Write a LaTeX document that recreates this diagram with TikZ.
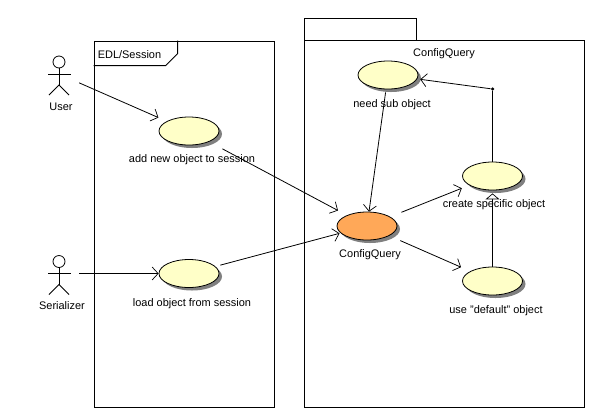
\documentclass[tikz,border=0pt]{standalone}
\usepackage{fontspec}
\setmainfont{Liberation Sans}
\usetikzlibrary{arrows.meta,shapes.geometric,shadows}
\definecolor{caseyellow}{HTML}{FFFFC8}
\definecolor{caseorange}{HTML}{FFA858}
\definecolor{shadowgrey}{HTML}{808080}
\tikzset{
  casenode/.style={ellipse, draw, line width=0.8bp, fill=caseyellow, inner sep=0pt,
    minimum width=60bp, minimum height=28bp,
    drop shadow={shadow xshift=3bp, shadow yshift=-3bp, fill=shadowgrey, opacity=1}},
  maincase/.style={casenode, fill=caseorange},
  caselabel/.style={font=\fontsize{11}{13}\selectfont, inner sep=0pt,
    text height=10.5bp, text depth=2bp},
  pkgbox/.style={draw, line width=0.8bp, fill=white, inner sep=0pt},
  actorspot/.style={inner sep=0pt, minimum width=40bp, minimum height=44bp},
  joindot/.style={circle, fill=black, inner sep=0pt, minimum size=3.5bp},
  arr/.style={-{Straight Barb[length=6bp,width=13bp,line width=0.7bp]}, line width=0.8bp},
  plainline/.style={line width=0.8bp},
  genarr/.style={-{Triangle[open,fill=white,length=6bp,width=14bp,line width=0.7bp]}, line width=0.8bp},
  actorfig/.pic={
    \draw[line width=0.8bp] (0,-12) circle (6);
    \draw[line width=0.8bp] (0,-6) -- (0,11);
    \draw[line width=0.8bp] (-11,0) -- (12,0);
    \draw[line width=0.8bp] (-10,21) -- (0,11) -- (10,21);
  }
}
\begin{document}
\begin{tikzpicture}[x=1bp,y=-1bp]
  \useasboundingbox (0,0) rectangle (596,419);
  \draw[pkgbox] (304,40) -- (304,18) -- (416,18) -- (416,40);
  \node[pkgbox, minimum width=180bp, minimum height=366bp] (session) at (184,224) {};
  \node[pkgbox, minimum width=280bp, minimum height=367bp] (query) at (444.5,223.5) {};
  \draw[plainline] (session.north west) ++(0,25) -- ++(72,0) -- ++(12,-12) -- ++(0,-13);
  \node[caselabel] (sessiontitle) at (129.5,54) {EDL/Session};
  \node[caselabel] (querytitle) at (444,52) {ConfigQuery};

  \node[actorspot] (user) at (59,74) {};
  \node[actorspot] (serial) at (59,273.5) {};
  \pic at (user) {actorfig};
  \pic at (serial) {actorfig};
  \node[caselabel] (userlabel) at (61,106) {User};
  \node[caselabel] (seriallabel) at (62,305) {Serializer};

  \node[casenode] (addobj) at (189,131) {};
  \node[casenode] (loadobj) at (189,273.5) {};
  \node[casenode] (needsub) at (388,75) {};
  \node[casenode] (create) at (492.5,176) {};
  \node[maincase] (config) at (367,226) {};
  \node[casenode] (usedefault) at (492.5,281) {};
  \node[joindot] (branch) at (492.5,89) {};

  \draw[arr, shorten >=9bp] (user) -- (addobj);
  \draw[arr] (serial) -- (loadobj);
  \draw[arr, shorten <=15bp, shorten >=10bp] (addobj) -- (config);
  \draw[arr, shorten <=5bp, shorten >=1bp] (loadobj) -- (config);
  \draw[arr, shorten <=3bp] (needsub) -- (config);
  \draw[arr, shorten <=12bp, shorten >=8bp] (config) -- (create);
  \draw[arr, shorten <=12bp, shorten >=10bp] (config) -- (usedefault);
  \draw[plainline] (create) -- (branch);
  \draw[arr, shorten >=3bp] (branch) -- (needsub);
  \draw[genarr, shorten >=3bp] (usedefault) -- (create);

  \node[caselabel] (addlabel) at (192,158) {add new object to session};
  \node[caselabel] (loadlabel) at (192,302) {load object from session};
  \node[caselabel] (needlabel) at (392,103) {need sub object};
  \node[caselabel] (createlabel) at (494,203) {create specific object};
  \node[caselabel] (configlabel) at (370,253) {ConfigQuery};
  \node[caselabel] (defaultlabel) at (496,309) {use "default" object};
\end{tikzpicture}
\end{document}
